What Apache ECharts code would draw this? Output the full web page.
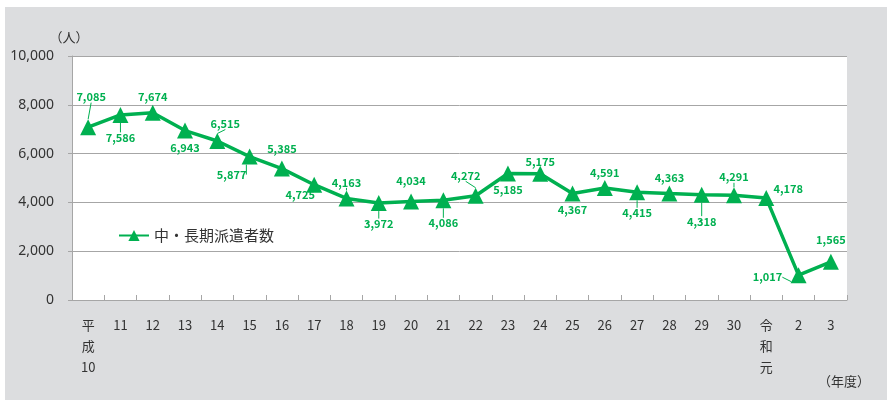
<!DOCTYPE html>
<html>
<head>
<meta charset="utf-8">
<script src="https://cdn.jsdelivr.net/npm/echarts@6/dist/echarts.min.js"></script>
<style>
  html, body { margin: 0; padding: 0; background: #ffffff; }
  #chart { width: 887px; height: 400px; }
</style>
</head>
<body>
<div id="chart"></div>
<script>
// 年度 (fiscal years): 平成10–30, 令和元–3
const categories = ['平\n成\n10', '11', '12', '13', '14', '15', '16', '17', '18', '19', '20',
  '21', '22', '23', '24', '25', '26', '27', '28', '29', '30', '令\n和\n元', '2', '3'];

// 中・長期派遣者数 (persons)
const dispatched = [7085, 7586, 7674, 6943, 6515, 5877, 5385, 4725, 4163, 3972, 4034,
  4086, 4272, 5185, 5175, 4367, 4591, 4415, 4363, 4318, 4291, 4178, 1017, 1565];

// value-label placement relative to each point [dx, dy] and whether a leader line is drawn
const labelShift = [[3, -30], [0, 23], [0, -16], [0, 17], [8, -17], [-18, 18], [0, -20], [-14, 10],
  [0, -16], [0, 21], [0, -21], [0, 23], [-10, -20], [0, 16], [0, -12], [0, 16], [0, -15],
  [0, 21], [0, -16], [0, 27], [0, -18], [22, -9], [-31, 2], [0, -22]];
const withLeader = [true, true, false, false, true, true, false, false, true, true, false, true,
  true, false, false, false, false, true, false, true, true, false, true, false];

const GREEN = '#00b050';
const chart = echarts.init(document.getElementById('chart'), null, { renderer: 'canvas' });

const seriesData = dispatched.map((v, i) => ({
  value: v,
  labelLine: { show: withLeader[i] }
}));

chart.setOption({
  backgroundColor: '#ffffff',
  animation: false,
  graphic: [{
    type: 'rect',
    z: -10,
    shape: { x: 5, y: 7, width: 882, height: 393 },
    style: { fill: '#dcdddf' }
  }, {
    type: 'text',
    left: 818, top: 375,
    style: { text: '（年度）', fill: '#333333', font: '13px "Noto Sans CJK JP"' }
  }],
  grid: {
    left: 72, right: 40, top: 56, bottom: 100,
    show: true, backgroundColor: '#ffffff', borderWidth: 0
  },
  legend: {
    left: 113, top: 223,
    itemWidth: 30, itemHeight: 14, itemGap: 4,
    textStyle: { fontFamily: 'Noto Sans CJK JP', fontSize: 15, color: '#333333' },
    data: ['中・長期派遣者数']
  },
  xAxis: {
    type: 'category',
    data: categories,
    boundaryGap: true,
    axisLine: { lineStyle: { color: '#a6a6a6', width: 1 } },
    axisTick: { show: true, inside: true, length: 5, lineStyle: { color: '#a6a6a6' } },
    axisLabel: {
      interval: 0, margin: 15,
      fontFamily: 'Noto Sans CJK JP', fontSize: 13, color: '#333333', lineHeight: 21,
      verticalAlign: 'top'
    }
  },
  yAxis: {
    type: 'value',
    min: 0, max: 10000, interval: 2000,
    name: '（人）',
    nameLocation: 'end',
    nameGap: 12,
    nameTextStyle: { fontFamily: 'Noto Sans CJK JP', fontSize: 13, color: '#333333', align: 'center', padding: [0, 0, 0, -6] },
    axisLine: { show: true, lineStyle: { color: '#a6a6a6', width: 1 } },
    axisTick: { show: true, length: 4, lineStyle: { color: '#a6a6a6' } },
    splitLine: { lineStyle: { color: '#a6a6a6', width: 1 } },
    axisLabel: {
      margin: 18,
      fontFamily: 'Noto Sans', fontSize: 14, color: '#333333',
      formatter: v => v.toLocaleString('en-US')
    }
  },
  series: [{
    name: '中・長期派遣者数',
    type: 'line',
    data: seriesData,
    symbol: 'triangle',
    symbolSize: 16,
    itemStyle: { color: GREEN },
    lineStyle: { color: GREEN, width: 3.5 },
    label: {
      show: true,
      position: 'inside',
      color: GREEN,
      fontFamily: 'Noto Sans CJK JP',
      fontWeight: 'bold',
      fontSize: 11,
      formatter: p => p.value.toLocaleString('en-US')
    },
    labelLine: { show: false, lineStyle: { color: GREEN, width: 1 } },
    labelLayout: p => ({ dx: labelShift[p.dataIndex][0], dy: labelShift[p.dataIndex][1] })
  }]
});
</script>
</body>
</html>
